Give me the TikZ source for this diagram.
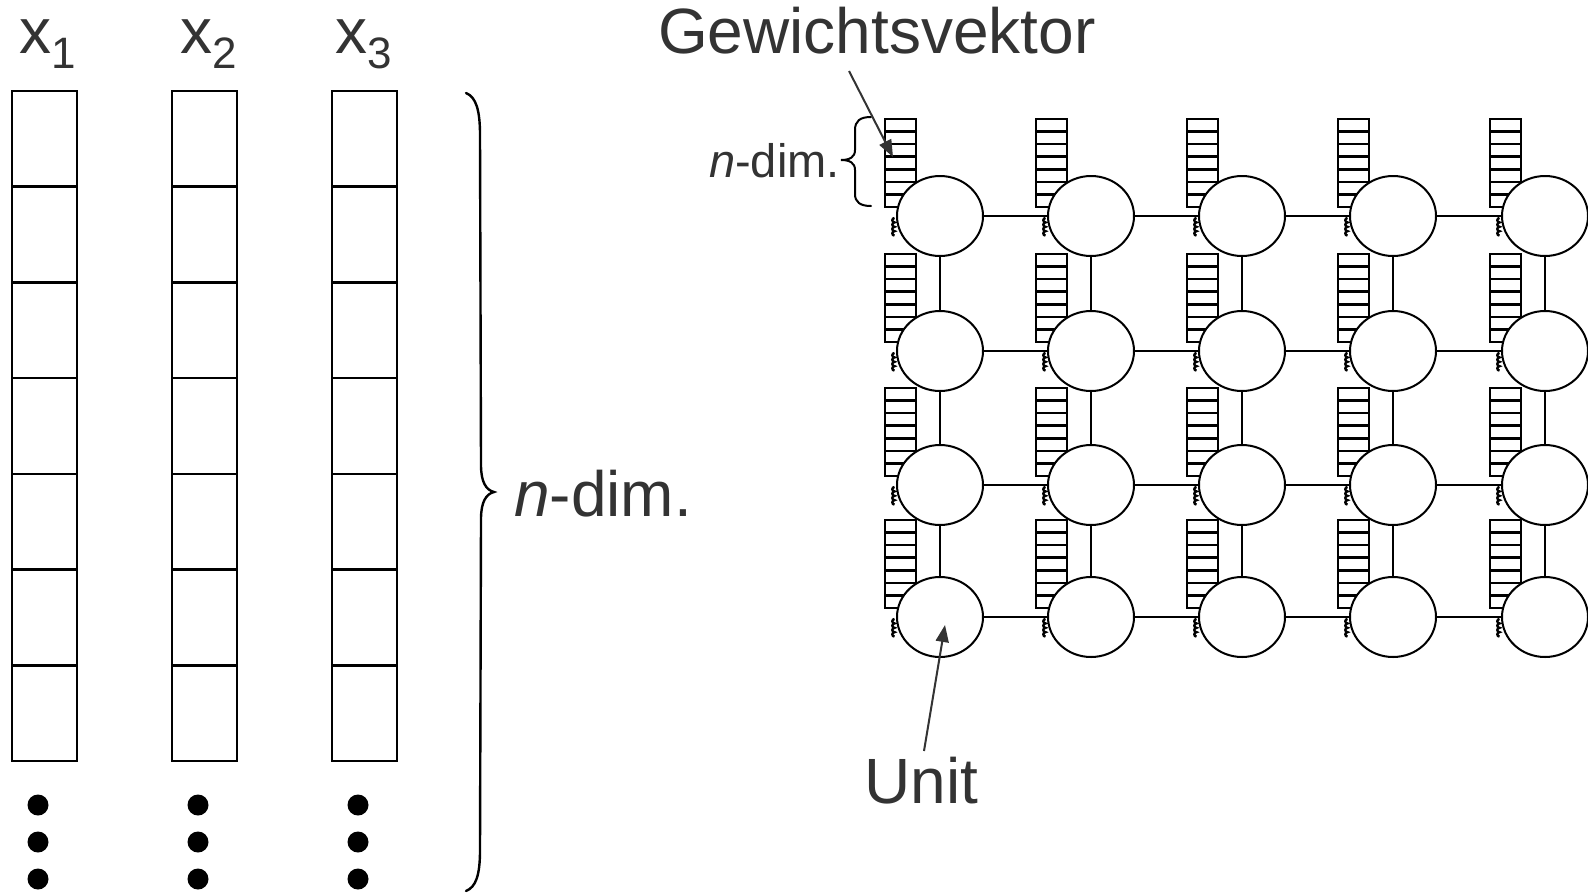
\documentclass[tikz,border=0pt]{standalone}
\usepackage{fontspec}
\setmainfont{Liberation Sans}
\usetikzlibrary{shapes.geometric,arrows.meta,backgrounds}
\definecolor{txt}{RGB}{51,51,51}
\begin{document}
\begin{tikzpicture}[x=1pt,y=-1pt,
  big/.style={font=\fontsize{64}{70}\selectfont, text=txt, inner sep=0pt, anchor=base west},
  small/.style={font=\fontsize{47}{52}\selectfont, text=txt, inner sep=0pt, anchor=base west},
  unitnode/.style={ellipse, draw, fill=white, line width=2pt, minimum width=86pt, minimum height=80pt, inner sep=0pt},
  cell/.style={draw, line width=2.5pt},
  vec/.style={draw, line width=2.6pt},
  link/.style={line width=2pt},
  brace/.style={line width=2.4pt, line cap=round},
  coil/.style={line width=2.4pt},
  pointer/.style={draw=txt, line width=2pt, -{Triangle[length=17pt,width=13pt]}, fill=txt},
  ]
\useasboundingbox (0,0) rectangle (1588,892);

% labels
\node[big] (x1) at (19,53) {x\raisebox{-15pt}{\fontsize{44}{44}\selectfont 1}};
\node[big] (x2) at (180,53) {x\raisebox{-15pt}{\fontsize{44}{44}\selectfont 2}};
\node[big] (x3) at (335,53) {x\raisebox{-15pt}{\fontsize{44}{44}\selectfont 3}};
\node[big] (gwv) at (658,53) {Gewichtsvektor};
\node[big] (unitlbl) at (864,803) {Unit};
\node[big] (ndim) at (514,516) {\textit{n}-dim.};
\node[small] (ndims) at (709,177) {\textit{n}-dim.};

% input columns
\foreach \cx in {12,172,332}{
  \foreach \i in {0,...,6}{
    \draw[cell] (\cx,91+95.71*\i) rectangle ++(65,95.71);
  }
}
\foreach \cx in {38,198,358}{
  \foreach \cy in {805,842,879}{
    \fill (\cx,\cy) circle[radius=10.5];
  }
}

% big brace
\draw[brace] (466,93) .. controls (476,97) and (480,110) .. (480,135) -- (481,465)
  .. controls (481,482) and (486,490) .. (494,492)
  .. controls (486,494) and (481,502) .. (481,519) -- (480,850)
  .. controls (480,875) and (476,887) .. (466,891);

% small brace
\draw[brace, line width=2pt] (871,117) .. controls (860,117) and (855,121) .. (855,130) -- (855,150)
  .. controls (855,157) and (850,160) .. (841,160)
  .. controls (850,160) and (855,163) .. (855,170) -- (855,194)
  .. controls (855,202) and (860,206) .. (871,206);

% units
\foreach \r/\cy in {1/216,2/351,3/485,4/617}{
  \foreach \c/\cx in {1/940,2/1091,3/1242,4/1393,5/1545}{
    \node[unitnode] (u\r\c) at (\cx,\cy) {};
    \draw[coil] (u\r\c.west) ++(-1.5,2)
      arc[start angle=270,end angle=90,radius=2.2]
      arc[start angle=270,end angle=90,radius=2.2]
      arc[start angle=270,end angle=90,radius=2.2]
      arc[start angle=270,end angle=90,radius=2.2];
  }
}

\begin{pgfonlayer}{background}
  % weight vectors
  \foreach \cy in {216,351,485,617}{
    \foreach \cx in {940,1091,1242,1393,1545}{
      \draw[vec] (\cx-55,\cy-97) rectangle (\cx-24,\cy-9);
      \foreach \k in {1,...,6}{
        \draw[vec] (\cx-55,\cy-97+12.57*\k) -- (\cx-24,\cy-97+12.57*\k);
      }
    }
  }
  % links
  \foreach \r in {1,...,4}{
    \foreach \c [evaluate=\c as \n using int(\c+1)] in {1,...,4}{
      \draw[link] (u\r\c) -- (u\r\n);
    }
  }
  \foreach \r [evaluate=\r as \n using int(\r+1)] in {1,2,3}{
    \foreach \c in {1,...,5}{
      \draw[link] (u\r\c) -- (u\n\c);
    }
  }
\end{pgfonlayer}

% pointers
\coordinate (gvtail) at (849,71);
\coordinate (gvtip) at (893,157);
\draw[pointer] (gvtail) -- (gvtip);
\coordinate (untail) at (924,751);
\coordinate (untip) at (945,625);
\draw[pointer] (untail) -- (untip);
\end{tikzpicture}
\end{document}
